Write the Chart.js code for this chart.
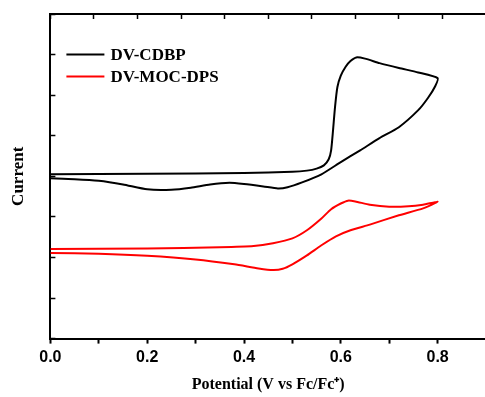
<!DOCTYPE html>
<html>
<head>
<meta charset="utf-8">
<script src="https://cdn.jsdelivr.net/npm/chart.js@4.4.1/dist/chart.umd.min.js"></script>
<style>
  html, body { margin: 0; padding: 0; background: #fff; overflow: hidden; }
  #wrap { position: absolute; left: 0; top: 0; width: 490px; height: 397px; }
</style>
</head>
<body>
<div id="wrap"><canvas id="cv"></canvas></div>
<script>
// DV-CDBP cyclic voltammogram (forward scan then return scan)
const cdbpV = [0, 0.2, 0.4, 0.5, 0.53, 0.55, 0.565, 0.575, 0.58, 0.584, 0.588, 0.593, 0.6, 0.61, 0.62, 0.632, 0.65, 0.68, 0.72, 0.76, 0.8,
               0.795, 0.78, 0.76, 0.72, 0.68, 0.64, 0.6, 0.56, 0.52, 0.49, 0.47, 0.44, 0.4, 0.37, 0.33, 0.29, 0.25, 0.2, 0.15, 0.1, 0.05, 0];
const cdbpI = [4.05, 4.06, 4.08, 4.11, 4.14, 4.19, 4.27, 4.42, 4.64, 5.14, 5.70, 6.20, 6.48, 6.70, 6.84, 6.93, 6.90, 6.79, 6.67, 6.56, 6.42,
               6.22, 5.93, 5.63, 5.21, 4.94, 4.64, 4.35, 4.05, 3.85, 3.73, 3.70, 3.75, 3.81, 3.84, 3.80, 3.72, 3.67, 3.68, 3.80, 3.89, 3.93, 3.95];

// DV-MOC-DPS cyclic voltammogram
const mocV = [0, 0.2, 0.35, 0.42, 0.46, 0.5, 0.53, 0.56, 0.58, 0.6, 0.615, 0.63, 0.66, 0.7, 0.74, 0.77, 0.8,
              0.77, 0.72, 0.66, 0.62, 0.59, 0.56, 0.53, 0.5, 0.48, 0.46, 0.43, 0.38, 0.3, 0.2, 0.1, 0];
const mocI = [2.21, 2.22, 2.25, 2.28, 2.35, 2.47, 2.67, 2.96, 3.19, 3.33, 3.40, 3.38, 3.30, 3.25, 3.26, 3.30, 3.37,
              3.21, 3.04, 2.81, 2.67, 2.52, 2.30, 2.05, 1.83, 1.72, 1.69, 1.73, 1.83, 1.95, 2.04, 2.09, 2.11];

const seriesNames = ['DV-CDBP', 'DV-MOC-DPS'];
const seriesColors = ['#000000', '#ff0000'];

function toPoints(xs, ys) {
    return xs.map((x, i) => ({ x: x, y: ys[i] }));
}

// Legend drawn inside the plot, top-left
const insideLegend = {
    id: 'insideLegend',
    afterDraw(chart) {
        const ctx = chart.ctx;
        const left = chart.chartArea.left;
        ctx.save();
        ctx.font = 'bold 17px "Liberation Serif"';
        ctx.textBaseline = 'middle';
        seriesNames.forEach((name, i) => {
            const y = 54.5 + i * 22;
            ctx.strokeStyle = seriesColors[i];
            ctx.lineWidth = 2;
            ctx.beginPath();
            ctx.moveTo(left + 16, y);
            ctx.lineTo(left + 54, y);
            ctx.stroke();
            ctx.fillStyle = '#000';
            ctx.fillText(name, left + 60, y + 1);
        });
        ctx.restore();
    }
};

const ctx = document.getElementById('cv').getContext('2d');
new Chart(ctx, {
    type: 'scatter',
    data: {
        datasets: [
            { label: seriesNames[0], data: toPoints(cdbpV, cdbpI), showLine: true, borderColor: seriesColors[0], borderWidth: 2, pointRadius: 0, tension: 0.2 },
            { label: seriesNames[1], data: toPoints(mocV, mocI), showLine: true, borderColor: seriesColors[1], borderWidth: 2, pointRadius: 0, tension: 0.2 }
        ]
    },
    options: {
        responsive: true,
        maintainAspectRatio: false,
        animation: false,
        layout: { padding: { left: 2, right: 2, top: 14, bottom: 3 } },
        plugins: { legend: { display: false }, tooltip: { enabled: false } },
        scales: {
            x: {
                type: 'linear', position: 'bottom', min: 0, max: 0.9,
                border: { display: true, color: '#000', width: 2 },
                grid: { drawOnChartArea: false, drawTicks: true, tickLength: 5, tickWidth: 2, tickColor: '#000' },
                ticks: {
                    stepSize: 0.1, color: '#000', padding: 4,
                    font: { family: '"Liberation Sans"', size: 16, weight: 'bold' },
                    callback: v => (Math.round(v * 10) % 2 === 0 && v < 0.85) ? v.toFixed(1) : ''
                },
                title: { display: true, text: 'Potential (V vs Fc/Fc\u207A)', color: '#000', padding: { top: 4, bottom: 0 },
                         font: { family: '"Liberation Serif"', size: 16, weight: 'bold' } }
            },
            x2: {
                type: 'linear', position: 'top', min: 0, max: 1,
                border: { display: true, color: '#000', width: 2 },
                grid: { drawOnChartArea: false, drawTicks: true, tickLength: -5, tickWidth: 1.5, tickColor: '#000' },
                ticks: { stepSize: 0.1, display: false },
                afterFit: s => { s.height = 0; }
            },
            y: {
                type: 'linear', min: 0, max: 8,
                border: { display: true, color: '#000', width: 2 },
                grid: { drawOnChartArea: false, drawTicks: true, tickLength: -5, tickWidth: 1.5, tickColor: '#000' },
                ticks: { stepSize: 1, display: false },
                title: { display: true, text: 'Current', color: '#000', padding: { top: 6, bottom: 27 },
                         font: { family: '"Liberation Serif"', size: 17, weight: 'bold' } }
            }
        }
    },
    plugins: [insideLegend]
});
</script>
</body>
</html>
